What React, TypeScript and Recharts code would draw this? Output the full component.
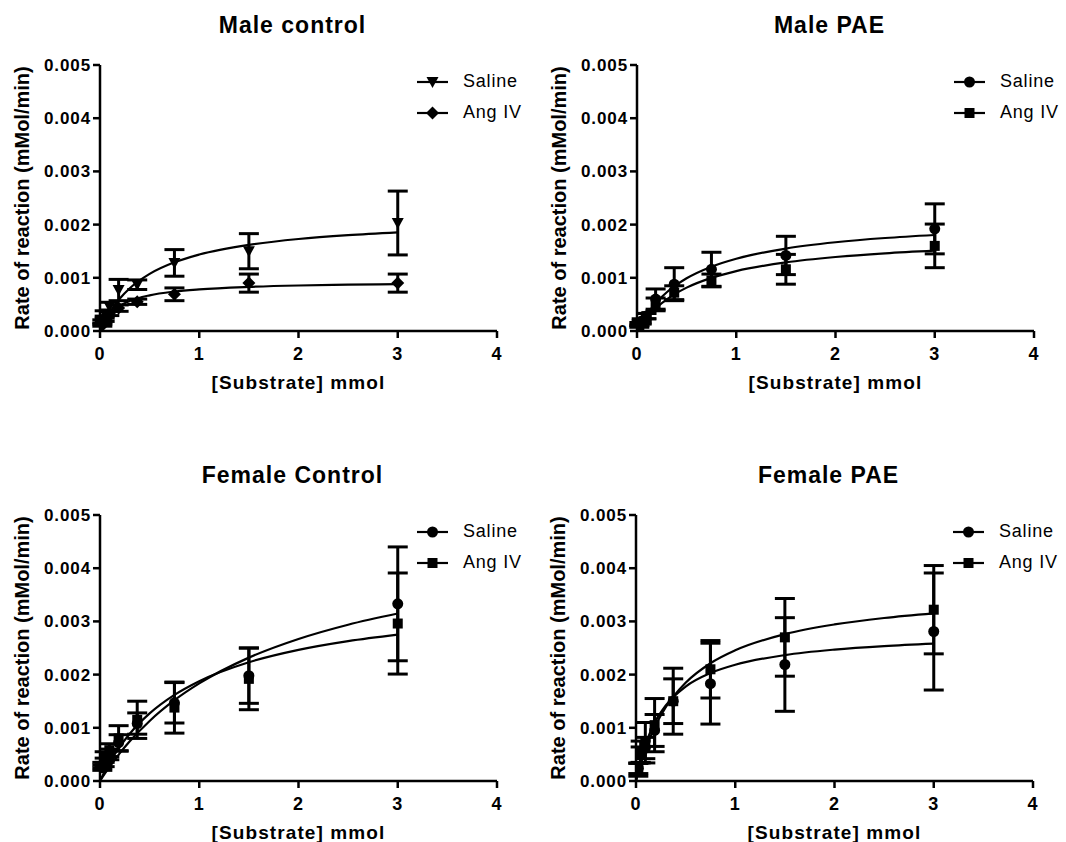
import React from "react";
import {
  ComposedChart,
  ErrorBar,
  Label,
  Legend,
  Line,
  Scatter,
  XAxis,
  YAxis,
} from "recharts";

const FONT = '"Liberation Sans", Arial, sans-serif';

// substrate concentrations (mmol), shared by all four panels
const substrate = [0.0234, 0.047, 0.094, 0.1875, 0.375, 0.75, 1.5, 3];
// x positions where the fitted curves were read
const curveX = [0, 0.05, 0.1, 0.2, 0.3, 0.5, 0.75, 1, 1.5, 2, 2.5, 3];

const xTicks = [0, 1, 2, 3, 4];
const yTicks = [0, 0.001, 0.002, 0.003, 0.004, 0.005];

// Male control
const maleCtrlSalineMean = [0.00018, 0.00033, 0.00046, 0.00077, 0.00087, 0.00128, 0.0015, 0.00203];
const maleCtrlSalineSem = [0.00003, 0.00005, 0.00008, 0.0002, 0.00009, 0.00025, 0.00033, 0.0006];
const maleCtrlAngMean = [0.00011, 0.00021, 0.00033, 0.00043, 0.00055, 0.00069, 0.0009, 0.0009];
const maleCtrlAngSem = [0.00002, 0.00003, 0.00004, 0.00006, 0.00005, 0.00012, 0.00017, 0.00017];
const maleCtrlSalineFit = [0, 0.000194, 0.000356, 0.000611, 0.000804, 0.001074, 0.001292, 0.001437, 0.001619, 0.001729, 0.001802, 0.001855];
const maleCtrlAngFit = [0, 0.000188, 0.000313, 0.00047, 0.000564, 0.000671, 0.000742, 0.000783, 0.000829, 0.000855, 0.00087, 0.000881];

// Male PAE
const malePaeSalineMean = [0.00013, 0.00019, 0.00028, 0.0006, 0.00088, 0.00116, 0.00142, 0.00192];
const malePaeSalineSem = [0.00003, 0.00004, 0.00005, 0.00019, 0.00031, 0.00032, 0.00036, 0.00047];
const malePaeAngMean = [0.00009, 0.00016, 0.00028, 0.0005, 0.00072, 0.00095, 0.00116, 0.0016];
const malePaeAngSem = [0.00002, 0.00003, 0.00005, 0.00012, 0.00013, 0.00012, 0.00028, 0.00041];
const malePaeSalineFit = [0, 0.000169, 0.000313, 0.000547, 0.000728, 0.000991, 0.001209, 0.001358, 0.00155, 0.001668, 0.001748, 0.001805];
const malePaeAngFit = [0, 0.000136, 0.000254, 0.000446, 0.000595, 0.000815, 0.000999, 0.001126, 0.00129, 0.001391, 0.00146, 0.00151];

// Female control
const femCtrlSalineMean = [0.00025, 0.00035, 0.0005, 0.00072, 0.00108, 0.00147, 0.00198, 0.00333];
const femCtrlSalineSem = [0.00005, 0.00008, 0.0001, 0.00015, 0.0002, 0.00038, 0.00052, 0.00107];
const femCtrlAngMean = [0.0003, 0.00045, 0.00058, 0.0008, 0.00115, 0.00138, 0.00192, 0.00296];
const femCtrlAngSem = [0.00005, 0.0001, 0.00012, 0.00024, 0.00035, 0.00048, 0.00058, 0.00095];
const femCtrlSalineFit = [0, 0.000142, 0.000277, 0.000524, 0.000746, 0.001129, 0.001519, 0.001835, 0.002319, 0.00267, 0.002938, 0.003148];
const femCtrlAngFit = [0, 0.000186, 0.000354, 0.000645, 0.000888, 0.00127, 0.001619, 0.001877, 0.002232, 0.002465, 0.00263, 0.002752];

// Female PAE
const femPaeSalineMean = [0.00024, 0.00049, 0.00062, 0.00095, 0.0015, 0.00183, 0.00219, 0.00281];
const femPaeSalineSem = [0.0001, 0.00015, 0.0002, 0.0003, 0.00042, 0.00076, 0.00088, 0.0011];
const femPaeAngMean = [0.00021, 0.00055, 0.00072, 0.00105, 0.0015, 0.0021, 0.0027, 0.00322];
const femPaeAngSem = [0.00012, 0.0002, 0.00038, 0.0005, 0.00062, 0.00054, 0.00073, 0.00083];
const femPaeSalineFit = [0, 0.000406, 0.00071, 0.001136, 0.00142, 0.001775, 0.002029, 0.002185, 0.002367, 0.00247, 0.002536, 0.002582];
const femPaeAngFit = [0, 0.000337, 0.000618, 0.001058, 0.001387, 0.001846, 0.002213, 0.002456, 0.002761, 0.002943, 0.003064, 0.003151];

type Kind = "circle" | "square" | "diamond" | "triangleDown";

const Marker = ({ cx, cy, kind }: { cx: number; cy: number; kind: Kind }) => {
  if (cx == null || cy == null) return null;
  if (kind === "circle") return <circle cx={cx} cy={cy} r={5.5} fill="#000" />;
  if (kind === "square") return <rect x={cx - 5} y={cy - 5} width={10} height={10} fill="#000" />;
  if (kind === "diamond")
    return (
      <polygon
        points={`${cx},${cy - 6.5} ${cx + 6.5},${cy} ${cx},${cy + 6.5} ${cx - 6.5},${cy}`}
        fill="#000"
      />
    );
  return (
    <polygon
      points={`${cx - 6},${cy - 5} ${cx + 6},${cy - 5} ${cx},${cy + 6}`}
      fill="#000"
    />
  );
};

const toPoints = (mean: number[], sem: number[]) =>
  substrate.map((x, i) => ({ x, y: mean[i], err: sem[i] }));
const toCurve = (fit: number[]) => curveX.map((x, i) => ({ x, y: fit[i] }));

const LegendBox = ({ kinds }: { kinds: Kind[] }) => {
  const names = ["Saline", "Ang IV"];
  return (
    <div
      style={{
        fontFamily: FONT,
        fontSize: 18,
        color: "#000",
        letterSpacing: 0.8,
        whiteSpace: "nowrap",
      }}
    >
      {names.map((n, i) => (
        <div key={n} style={{ display: "flex", alignItems: "center", height: 31 }}>
          <svg width={46} height={20} style={{ display: "block", flex: "none" }}>
            <line x1={0} y1={10} x2={31} y2={10} stroke="#000" strokeWidth={2.2} />
            <Marker cx={15.5} cy={10} kind={kinds[i]} />
          </svg>
          <span>{n}</span>
        </div>
      ))}
    </div>
  );
};

interface PanelProps {
  title: string;
  left: number;
  top: number;
  kinds: Kind[];
  saline: { x: number; y: number; err: number }[];
  ang: { x: number; y: number; err: number }[];
  salineFit: { x: number; y: number }[];
  angFit: { x: number; y: number }[];
}

const axisStroke = { stroke: "#000", strokeWidth: 2.5 };
const tickStyle = {
  fill: "#000",
  fontSize: 17,
  fontWeight: "bold",
  fontFamily: FONT,
  letterSpacing: 0.9,
};

const Panel: React.FC<PanelProps> = ({ title, left, top, kinds, saline, ang, salineFit, angFit }) => (
  <div style={{ position: "absolute", left, top, width: 520, height: 380 }}>
    <div
      style={{
        position: "absolute",
        left: 94,
        top: -8,
        width: 397,
        textAlign: "center",
        fontFamily: FONT,
        fontWeight: "bold",
        fontSize: 23,
        lineHeight: "26px",
        letterSpacing: 1,
      }}
    >
      {title}
    </div>
    <ComposedChart width={520} height={380} margin={{ top: 45, right: 23, bottom: 9, left: 40 }}>
      <XAxis
        type="number"
        dataKey="x"
        domain={[0, 4]}
        ticks={xTicks}
        allowDataOverflow
        height={60}
        axisLine={axisStroke}
        tickLine={axisStroke}
        tickSize={7}
        tickMargin={9}
        tick={{ ...tickStyle, fontSize: 18 }}
      >
        <Label
          value="[Substrate] mmol"
          position="insideBottom"
          offset={2}
          style={{ fill: "#000", fontSize: 19, fontWeight: "bold", fontFamily: FONT, letterSpacing: 1.1 }}
        />
      </XAxis>
      <YAxis
        type="number"
        dataKey="y"
        domain={[0, 0.005]}
        ticks={yTicks}
        allowDataOverflow
        width={60}
        axisLine={axisStroke}
        tickLine={axisStroke}
        tickSize={7}
        tickMargin={2}
        tick={tickStyle}
        tickFormatter={(v: number) => v.toFixed(3)}
      >
        <Label
          value="Rate of reaction (mMol/min)"
          angle={-90}
          position="left"
          offset={18}
          style={{ fill: "#000", fontSize: 20, fontWeight: "bold", fontFamily: FONT, textAnchor: "middle" }}
        />
      </YAxis>
      <Legend
        layout="vertical"
        align="center"
        verticalAlign="middle"
        wrapperStyle={{ left: 417, top: 46, width: 130 }}
        content={() => <LegendBox kinds={kinds} />}
      />
      <Line
        data={salineFit}
        dataKey="y"
        type="monotone"
        stroke="#000"
        strokeWidth={2.2}
        dot={false}
        activeDot={false}
        isAnimationActive={false}
      />
      <Line
        data={angFit}
        dataKey="y"
        type="monotone"
        stroke="#000"
        strokeWidth={2.2}
        dot={false}
        activeDot={false}
        isAnimationActive={false}
      />
      <Scatter
        data={saline}
        dataKey="y"
        isAnimationActive={false}
        shape={(p: any) => <Marker cx={p.cx} cy={p.cy} kind={kinds[0]} />}
      >
        <ErrorBar dataKey="err" direction="y" width={10} strokeWidth={3} stroke="#000" isAnimationActive={false} />
      </Scatter>
      <Scatter
        data={ang}
        dataKey="y"
        isAnimationActive={false}
        shape={(p: any) => <Marker cx={p.cx} cy={p.cy} kind={kinds[1]} />}
      >
        <ErrorBar dataKey="err" direction="y" width={10} strokeWidth={3} stroke="#000" isAnimationActive={false} />
      </Scatter>
    </ComposedChart>
  </div>
);

export default function App() {
  return (
    <div
      style={{
        position: "fixed",
        left: 0,
        top: 0,
        width: 1066,
        height: 842,
        overflow: "hidden",
        background: "#fff",
      }}
    >
      <Panel
        title="Male control"
        left={0}
        top={20}
        kinds={["triangleDown", "diamond"]}
        saline={toPoints(maleCtrlSalineMean, maleCtrlSalineSem)}
        ang={toPoints(maleCtrlAngMean, maleCtrlAngSem)}
        salineFit={toCurve(maleCtrlSalineFit)}
        angFit={toCurve(maleCtrlAngFit)}
      />
      <Panel
        title="Male PAE"
        left={537}
        top={20}
        kinds={["circle", "square"]}
        saline={toPoints(malePaeSalineMean, malePaeSalineSem)}
        ang={toPoints(malePaeAngMean, malePaeAngSem)}
        salineFit={toCurve(malePaeSalineFit)}
        angFit={toCurve(malePaeAngFit)}
      />
      <Panel
        title="Female Control"
        left={0}
        top={470}
        kinds={["circle", "square"]}
        saline={toPoints(femCtrlSalineMean, femCtrlSalineSem)}
        ang={toPoints(femCtrlAngMean, femCtrlAngSem)}
        salineFit={toCurve(femCtrlSalineFit)}
        angFit={toCurve(femCtrlAngFit)}
      />
      <Panel
        title="Female PAE"
        left={536}
        top={470}
        kinds={["circle", "square"]}
        saline={toPoints(femPaeSalineMean, femPaeSalineSem)}
        ang={toPoints(femPaeAngMean, femPaeAngSem)}
        salineFit={toCurve(femPaeSalineFit)}
        angFit={toCurve(femPaeAngFit)}
      />
    </div>
  );
}
